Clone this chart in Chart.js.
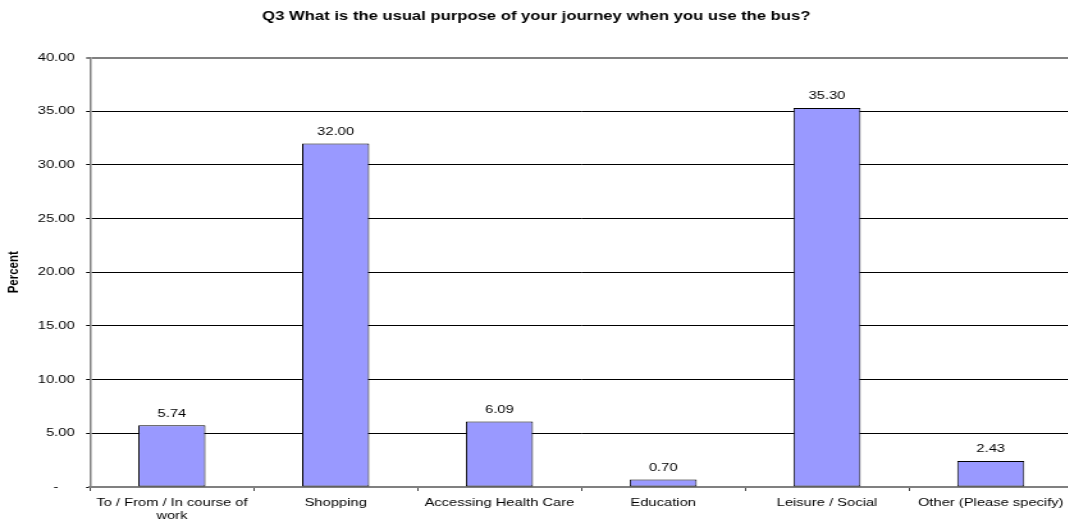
<!DOCTYPE html>
<html>
<head>
<meta charset="utf-8">
<script src="https://cdn.jsdelivr.net/npm/chart.js@4/dist/chart.umd.min.js"></script>
<style>
    html, body { margin: 0; padding: 0; background: #fff; overflow: hidden; }
    #frame { width: 1068px; height: 527px; overflow: hidden; }
    /* chart is laid out narrow and stretched sideways, like the exported sheet */
    #wrap { width: 838px; height: 527px; transform: scaleX(1.28); transform-origin: 0 0; }
</style>
</head>
<body>
<div id="frame">
    <div id="wrap"><canvas id="chartMucDich"></canvas></div>
</div>
<script>
var tieuDe = 'Q3 What is the usual purpose of your journey when you use the bus?';
var nhanMucDich = [
    ['To / From / In course of', 'work'],
    'Shopping',
    'Accessing Health Care',
    'Education',
    'Leisure / Social',
    'Other (Please specify)'
];
var phanTram = [5.74, 32.00, 6.09, 0.70, 35.30, 2.43];
var mocTruc = [0, 5, 10, 15, 20, 25, 30, 35, 40];

var phongChu = "'Liberation Sans', Arial, sans-serif";
Chart.defaults.color = '#000';
Chart.defaults.font.family = phongChu;

// ghi gia tri len dau moi cot
var nhanGiaTri = {
    id: 'nhanGiaTri',
    afterDatasetsDraw: function (chart) {
        var ctx = chart.ctx;
        ctx.save();
        ctx.font = '11.5px ' + phongChu;
        ctx.fillStyle = '#000';
        ctx.textAlign = 'center';
        ctx.textBaseline = 'middle';
        chart.getDatasetMeta(0).data.forEach(function (bar, i) {
            ctx.fillText(phanTram[i].toFixed(2), bar.x, bar.y - 12);
        });
        ctx.restore();
    }
};

function mauLuoi(c) {
    var v = c.tick ? c.tick.value : null;
    if (v === 40) return '#808080';
    if (v === 0) return 'rgba(0,0,0,0)';
    return '#000';
}

var $objChartMucDich = new Chart(document.getElementById('chartMucDich').getContext('2d'), {
    type: 'bar',
    data: {
        labels: nhanMucDich,
        datasets: [{
            data: phanTram,
            backgroundColor: '#9999FF',
            borderColor: '#000',
            borderWidth: 1,
            borderSkipped: false,
            barPercentage: 0.41,
            categoryPercentage: 1
        }]
    },
    options: {
        responsive: true,
        maintainAspectRatio: false,
        animation: false,
        layout: { padding: 0 },
        plugins: {
            legend: { display: false },
            tooltip: { enabled: false },
            title: {
                display: true,
                text: tieuDe,
                color: '#000',
                font: { size: 13, weight: 'bold', lineHeight: 1.2 },
                padding: { top: 8.5, bottom: 33.4 }
            }
        },
        scales: {
            x: {
                grid: {
                    offset: true,
                    drawOnChartArea: false,
                    tickLength: 4,
                    color: '#404040'
                },
                border: { color: '#808080', width: 2 },
                ticks: {
                    padding: 5,
                    maxRotation: 0,
                    autoSkip: false,
                    font: { size: 11.5, lineHeight: 1.15 }
                },
                afterFit: function (scale) { scale.height = 40; }
            },
            y: {
                min: 0,
                max: 40,
                afterBuildTicks: function (scale) {
                    scale.ticks = mocTruc.map(function (v) { return { value: v }; });
                },
                grid: {
                    color: mauLuoi,
                    tickColor: function (c) { return c.tick && c.tick.value === 40 ? '#808080' : '#000'; },
                    lineWidth: function (c) { return c.tick && c.tick.value === 40 ? 2 : 1; },
                    tickLength: 3
                },
                border: { color: '#808080', width: 1.5 },
                ticks: {
                    padding: 9,
                    font: { size: 11.5 },
                    callback: function (v) { return v === 0 ? '-    ' : v.toFixed(2); }
                },
                title: {
                    display: true,
                    text: 'Percent',
                    font: { size: 11.5, weight: 'bold', lineHeight: 1.2 },
                    padding: { top: 4, bottom: 0 }
                },
                afterFit: function (scale) { scale.width = 70.3; }
            }
        }
    },
    plugins: [nhanGiaTri]
});
</script>
</body>
</html>
